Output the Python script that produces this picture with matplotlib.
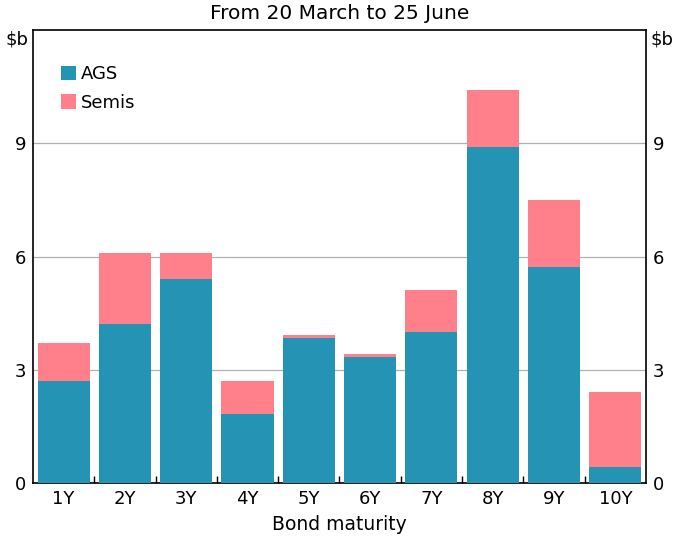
import numpy as np
import matplotlib
matplotlib.use('Agg')
import matplotlib.pyplot as plt

plt.rcParams['font.family'] = ['DejaVu Sans']

# Data ($b)
maturities = ['1Y', '2Y', '3Y', '4Y', '5Y', '6Y', '7Y', '8Y', '9Y', '10Y']
ags = [2.69, 4.22, 5.41, 1.82, 3.85, 3.35, 4.01, 8.89, 5.73, 0.42]
semis = [1.03, 1.87, 0.68, 0.87, 0.08, 0.08, 1.11, 1.51, 1.76, 1.98]
y_ticks = [0, 3, 6, 9]

AGS_COLOR = '#2593B4'
SEMIS_COLOR = '#FF808A'
FS = 13

fig = plt.figure(figsize=(6.76, 5.46), dpi=100)
ax = fig.add_axes([0.0488, 0.1154, 0.9068, 0.8296])

x = np.arange(len(maturities))
ax.bar(x, ags, width=0.85, color=AGS_COLOR, label='AGS', zorder=3)
ax.bar(x, semis, width=0.85, bottom=ags, color=SEMIS_COLOR, label='Semis', zorder=3)

ax.set_xlim(-0.5, len(maturities) - 0.5)
ax.set_ylim(0, 12)

# gridlines
ax.set_yticks(y_ticks)
ax.yaxis.grid(True, color='#b0b0b0', linewidth=0.9, zorder=0)
ax.tick_params(axis='y', length=0, labelsize=FS, pad=5, labelright=True, right=False)

ax.set_xticks(x)
ax.set_xticklabels(maturities)
ax.set_xticks(np.arange(0.5, len(maturities) - 0.5), minor=True)
ax.tick_params(axis='x', which='major', length=0, labelsize=FS, pad=5)
ax.tick_params(axis='x', which='minor', direction='in', length=5, width=1)

for s in ax.spines.values():
    s.set_linewidth(1.2)
    s.set_color('black')

ax.set_xlabel('Bond maturity', fontsize=FS + 0.5, labelpad=5)
ax.set_title('From 20 March to 25 June', fontsize=14.5, pad=8)

ax.text(-0.008, 1.0, '$b', transform=ax.transAxes, ha='right', va='top', fontsize=FS)
ax.text(1.008, 1.0, '$b', transform=ax.transAxes, ha='left', va='top', fontsize=FS)

ax.legend(loc='upper left', bbox_to_anchor=(0.045, 0.922), frameon=False, fontsize=FS,
          handlelength=0.85, handleheight=0.85, handletextpad=0.25, labelspacing=0.58,
          borderpad=0, borderaxespad=0)

fig.savefig('out.png', dpi=100)
